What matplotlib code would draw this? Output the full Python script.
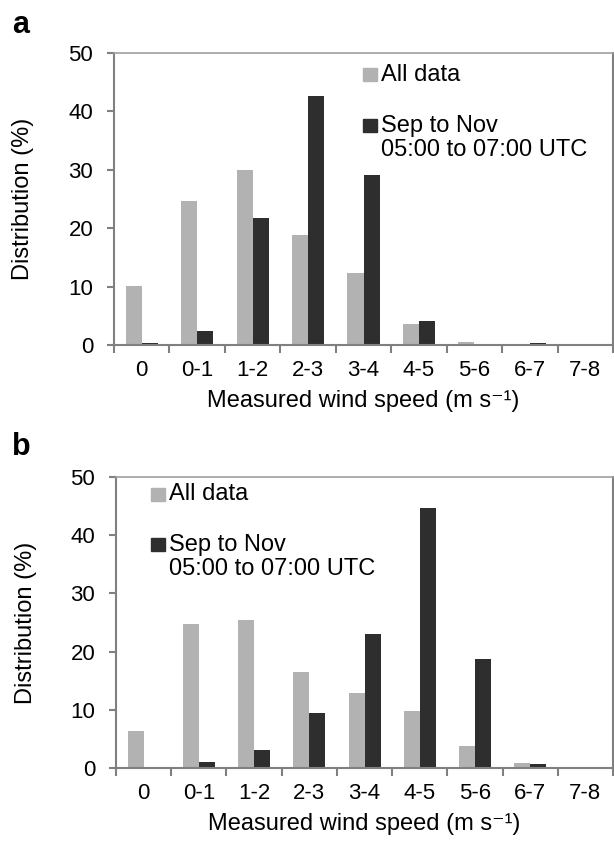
import matplotlib
matplotlib.use("Agg")
import matplotlib.pyplot as plt
from matplotlib.patches import Rectangle
import numpy as np

plt.rcParams['font.family'] = ['Liberation Sans', 'DejaVu Sans']

# wind speed classes (m/s)
categories = ['0', '0-1', '1-2', '2-3', '3-4', '4-5', '5-6', '6-7', '7-8']

# distribution (%) - panel a
a_all = [10.1, 24.7, 29.9, 18.9, 12.3, 3.6, 0.6, 0.0, 0.0]
a_sep = [0.3, 2.4, 21.7, 42.7, 29.1, 4.1, 0.0, 0.4, 0.0]

# distribution (%) - panel b
b_all = [6.4, 24.7, 25.4, 16.5, 12.9, 9.8, 3.8, 0.9, 0.0]
b_sep = [0.0, 1.0, 3.1, 9.5, 23.0, 44.6, 18.8, 0.7, 0.0]

light = '#b2b2b2'
dark = '#2e2e2e'
spine_col = '#808080'
tick_fs = 16
fs = 17

fig = plt.figure(figsize=(6.14, 8.43), dpi=100)
ax_a = fig.add_axes([0.1857, 0.5907, 0.8127, 0.3464])
ax_b = fig.add_axes([0.1890, 0.0890, 0.8094, 0.3452])


def draw_panel(ax, all_vals, sep_vals, leg_x, leg_y1, leg_y2):
    x = np.arange(len(categories))
    w = 0.29
    ax.bar(x - w / 2, all_vals, w, color=light, zorder=2)
    ax.bar(x + w / 2, sep_vals, w, color=dark, zorder=2)

    ax.set_xlim(-0.5, len(categories) - 0.5)
    ax.set_ylim(0, 50)
    ax.set_yticks([0, 10, 20, 30, 40, 50])

    # category boundaries get the tick marks, centres get the labels
    ax.set_xticks(np.arange(len(categories) + 1) - 0.5)
    ax.set_xticklabels([])
    ax.set_xticks(x, minor=True)
    ax.set_xticklabels(categories, minor=True)
    ax.tick_params(axis='x', which='major', direction='out', length=6,
                   width=1.5, color=spine_col)
    ax.tick_params(axis='x', which='minor', length=0, pad=11,
                   labelsize=tick_fs)
    ax.tick_params(axis='y', direction='out', length=5, width=1.5,
                   color=spine_col, pad=10, labelsize=tick_fs)

    for side in ['left', 'bottom', 'right']:
        ax.spines[side].set_color(spine_col)
        ax.spines[side].set_linewidth(1.5)
    ax.spines['top'].set_color('#a0a0a0')
    ax.spines['top'].set_linewidth(1.2)

    ax.set_xlabel('Measured wind speed (m s\u207b\u00b9)', fontsize=fs,
                  labelpad=6)
    ax.set_ylabel('Distribution (%)', fontsize=fs)
    ax.yaxis.set_label_coords(-0.16, 0.5)

    # legend drawn by hand so the swatch sits on the first text line
    sq_w, sq_h = 0.028, 0.044
    ax.add_patch(Rectangle((leg_x, leg_y1 - sq_h / 2), sq_w, sq_h,
                           transform=ax.transAxes, color=light, clip_on=False))
    ax.text(leg_x + 0.036, leg_y1, 'All data', transform=ax.transAxes,
            fontsize=fs, va='center', ha='left')
    ax.add_patch(Rectangle((leg_x, leg_y2 - sq_h / 2), sq_w, sq_h,
                           transform=ax.transAxes, color=dark, clip_on=False))
    ax.text(leg_x + 0.036, leg_y2 + 0.035, 'Sep to Nov\n05:00 to 07:00 UTC',
            transform=ax.transAxes, fontsize=fs, va='top', ha='left',
            linespacing=1.1)


draw_panel(ax_a, a_all, a_sep, 0.499, 0.926, 0.752)
draw_panel(ax_b, b_all, b_sep, 0.070, 0.940, 0.768)

fig.text(12 / 614, 1 - 33 / 843, 'a', fontsize=22, fontweight='bold',
         ha='left', va='baseline')
fig.text(12 / 614, 1 - 455 / 843, 'b', fontsize=22, fontweight='bold',
         ha='left', va='baseline')

fig.savefig('out.png', dpi=100, facecolor='white')
